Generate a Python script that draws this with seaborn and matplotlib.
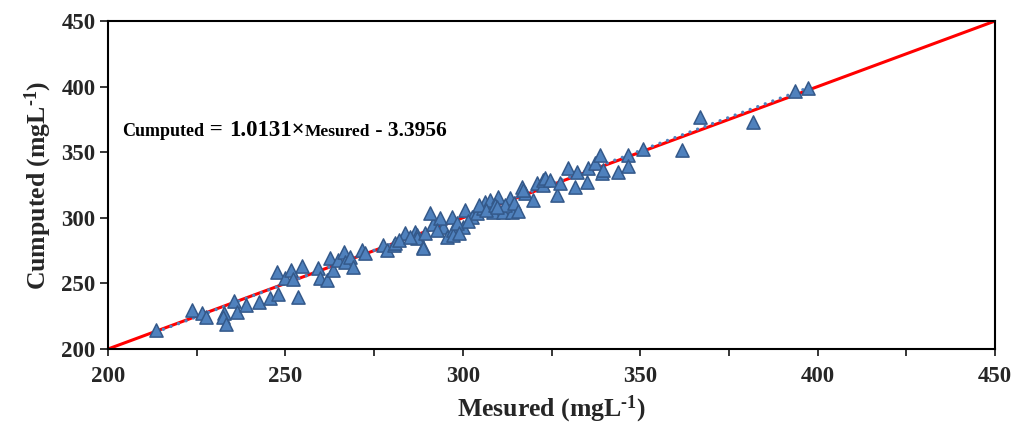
import numpy as np
import pandas as pd
import matplotlib
matplotlib.use("Agg")
import matplotlib.pyplot as plt
import seaborn as sns
from matplotlib.ticker import MultipleLocator
from matplotlib.offsetbox import TextArea, HPacker, AnchoredOffsetbox

# Data (mg/L)
measured = [213.5, 223.6, 226.4, 227.6, 232.7, 232.5, 233.3, 235.5, 236.4, 238.8,
            242.6, 245.7, 247.8, 253.6, 247.5, 249.9, 251.6, 252.1, 254.6, 259.3,
            259.8, 261.6, 262.6, 263.5, 264.9, 266.6, 266.8, 268.2, 269.1, 271.5,
            272.4, 277.6, 278.5, 280.6, 280.9, 283.7, 286.5, 287.0, 287.0, 288.9,
            289.3, 288.9, 282.0, 285.0, 291.5, 294.5,
            290.8, 293.6, 292.6, 295.5, 296.9, 297.3, 297.3, 300.1, 300.6, 302.5,
            303.9, 305.8, 306.3, 307.7, 308.6, 310.0, 311.4, 313.8, 313.3, 316.6,
            317.5, 319.9, 317.0, 320.8, 322.7, 322.7, 323.2, 324.6, 326.5, 327.4,
            329.7, 331.6, 332.1, 334.9, 335.4, 337.3, 338.7, 339.2, 339.6, 343.8,
            346.6, 346.6, 350.9, 361.7, 366.9, 381.9, 393.6, 397.4,
            298.5, 299.0, 301.5, 304.5, 306.5, 309.0, 312.0, 314.5, 315.5, 309.5]
computed = [214.5, 229.7, 227.7, 224.6, 227.4, 224.6, 219.1, 236.8, 228.2, 233.3,
            235.6, 238.6, 241.7, 239.4, 258.7, 253.9, 260.2, 253.6, 263.3, 261.5,
            253.9, 252.6, 269.1, 260.2, 267.8, 274.2, 266.5, 270.3, 262.7, 275.5,
            272.9, 279.3, 275.5, 279.3, 280.5, 288.2, 289.5, 286.9, 284.4, 278.0,
            288.2, 276.7, 283.0, 285.0, 295.0, 293.0,
            303.4, 299.6, 290.7, 285.6, 300.8, 290.7, 286.9, 293.2, 306.0, 300.8,
            303.4, 307.2, 312.3, 313.6, 304.7, 316.1, 304.7, 304.7, 314.9, 323.7,
            318.7, 313.6, 321.2, 326.3, 325.0, 328.8, 330.1, 328.8, 317.4, 326.3,
            337.7, 323.7, 335.1, 327.5, 337.7, 341.5, 347.9, 333.9, 336.4, 334.7,
            347.9, 339.5, 352.2, 351.7, 377.1, 373.3, 396.9, 398.7,
            296.0, 288.5, 297.5, 309.5, 306.0, 310.0, 309.5, 311.0, 305.5, 308.0]

slope = 1.0131
intercept = -3.3956
axis_min, axis_max = 200, 450

sns.set_style("ticks")
plt.rcParams['font.family'] = ['Liberation Serif', 'DejaVu Serif']
plt.rcParams['font.weight'] = 'bold'
plt.rcParams['mathtext.fontset'] = 'custom'
plt.rcParams['mathtext.rm'] = 'Liberation Serif:bold'
plt.rcParams['mathtext.bf'] = 'Liberation Serif:bold'
plt.rcParams['mathtext.default'] = 'bf'

fig, ax = plt.subplots(figsize=(10.17, 4.33), dpi=100)
fig.subplots_adjust(left=0.1062, right=0.9784, top=0.9515, bottom=0.194)

df = pd.DataFrame({'Mesured': measured, 'Cumputed': computed})

# 1:1 line
line_df = pd.DataFrame({'x': [axis_min, axis_max], 'y': [axis_min, axis_max]})
sns.lineplot(data=line_df, x='x', y='y', color='red', lw=2.2, ax=ax, zorder=1)

# trend line (dotted)
xs = np.array([min(measured), max(measured)])
ax.plot(xs, slope * xs + intercept, color='#4F81BD', lw=2.4,
        linestyle=(0, (0.01, 2.4)), dash_capstyle='round', zorder=2)

sns.scatterplot(data=df, x='Mesured', y='Cumputed', marker='^', s=90,
                color='#4F81BD', edgecolor='#34598A', linewidth=1.1, ax=ax, zorder=3)

ax.set_xlim(axis_min, axis_max)
ax.set_ylim(axis_min, axis_max)
ax.xaxis.set_major_locator(MultipleLocator(50))
ax.xaxis.set_minor_locator(MultipleLocator(25))
ax.yaxis.set_major_locator(MultipleLocator(50))
ax.tick_params(axis='x', which='both', direction='out', length=5, width=1.3, labelsize=16.5, pad=7)
ax.tick_params(axis='y', which='both', direction='out', length=6, width=1.3, labelsize=16.5, pad=3)
for lab in ax.get_xticklabels() + ax.get_yticklabels():
    lab.set_fontweight('bold')
for sp in ax.spines.values():
    sp.set_linewidth(1.5)
    sp.set_color('black')

ax.set_xlabel(r'Mesured (mgL$^{\text{-1}}$)', fontsize=18.5, fontweight='bold', labelpad=5)
ax.set_ylabel(r'Cumputed (mgL$^{\text{-1}}$)', fontsize=18.5, fontweight='bold', labelpad=5)

# regression equation with mixed sizes
parts = [("Cumputed", 13), (" = ", 16.5), ("1.0131\u00d7", 16.5), ("Mesured", 12.5), (" - 3.3956", 15.5)]
areas = [TextArea(t, textprops=dict(fontsize=s, fontweight='bold', color='black')) for t, s in parts]
box = HPacker(children=areas, align="baseline", pad=0, sep=0)
anch = AnchoredOffsetbox(loc='center left', child=box, bbox_to_anchor=(0.016, 0.665),
                         bbox_transform=ax.transAxes, frameon=False, pad=0, borderpad=0)
ax.add_artist(anch)

fig.savefig("out.png", dpi=100)
